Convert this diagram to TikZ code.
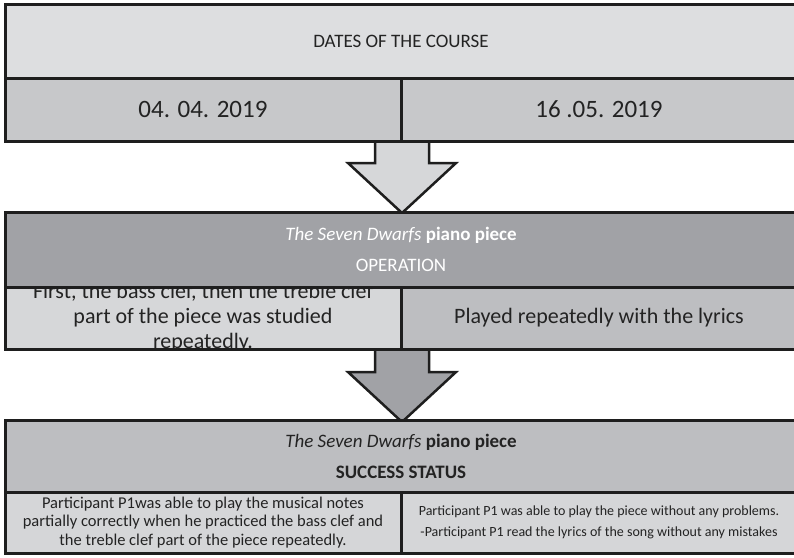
\documentclass[tikz,border=0pt]{standalone}
\usepackage{fontspec}
\setmainfont{Carlito}
\usetikzlibrary{calc}
\pgfdeclarelayer{back}
\pgfsetlayers{back,main}
\definecolor{edge}{RGB}{30,30,30}
\definecolor{ink}{RGB}{35,35,35}
\definecolor{paleA}{RGB}{221,222,224}
\definecolor{midA}{RGB}{199,200,202}
\definecolor{darkB}{RGB}{161,162,166}
\definecolor{paleB}{RGB}{214,215,217}
\definecolor{midB}{RGB}{189,190,193}
\definecolor{paleC}{RGB}{213,214,216}
\newcommand{\fsz}[2]{\fontsize{#1}{#2}\selectfont}

\begin{document}
\begin{tikzpicture}[x=1pt,y=-1pt,
  cell/.style={draw=edge, line width=3pt, anchor=north west, inner sep=0pt,
               outer sep=0pt, align=center, text=ink},
  halfcell/.style={cell, minimum width=396pt},
  fullcell/.style={cell, minimum width=792pt},
  blockarrow/.style={draw=edge, line width=2.5pt, line join=miter, miter limit=10},
]
\useasboundingbox (0,0) rectangle (794,557);
\clip (0,0) rectangle (794,557);

% dates of the course
\node[fullcell, fill=paleA, minimum height=74pt, font=\fsz{19}{23}] (datesH) at (5,4)
  {DATES OF THE COURSE};
\node[halfcell, fill=midA, minimum height=63pt, font=\fsz{25}{30}] (datesL) at (5,78)
  {04. 04. 2019};
\node[halfcell, fill=midA, minimum height=63pt, font=\fsz{25}{30}] (datesR) at (401,78)
  {16 .05. 2019};

% operation
\node[fullcell, fill=darkB, minimum height=75pt, text=white, font=\fsz{19}{31}] (opH) at (5,212)
  {\textit{The Seven Dwarfs} \textbf{piano piece}\\OPERATION};
\node[halfcell, fill=paleB, minimum height=62pt, draw=none] (opL) at (5,287) {};
\begin{scope}
  \clip ($(opL.north west)+(1.5,1.5)$) rectangle ($(opL.south east)+(-1.5,-1.5)$);
  \node[text=ink, align=center, inner sep=0pt, font=\fsz{22}{25}] (opLtext) at (opL.center)
    {First, the bass clef, then the treble clef\\part of the piece was studied\\repeatedly.};
\end{scope}
\draw[draw=edge, line width=3pt] (opL.north west) rectangle (opL.south east);
\node[halfcell, fill=midB, minimum height=62pt, font=\fsz{22}{25}] (opR) at (401,287)
  {Played repeatedly with the lyrics};

% success status
\node[fullcell, fill=midB, minimum height=72pt, font=\fsz{19}{31}] (ssH) at (5,420)
  {\textit{The Seven Dwarfs} \textbf{piano piece}\\\textbf{SUCCESS STATUS}};
\node[halfcell, fill=paleC, minimum height=61pt, font=\fsz{16.5}{18.5}] (ssL) at (5,492)
  {Participant P1was able to play the musical notes\\partially correctly when he practiced the bass clef and\\the treble clef part of the piece repeatedly.};
\node[halfcell, fill=paleC, minimum height=61pt, font=\fsz{14}{20.5}] (ssR) at (401,492)
  {Participant P1 was able to play the piece without any problems.\\-Participant P1 read the lyrics of the song without any mistakes};

% block arrows between the boxes
\begin{pgfonlayer}{back}
  \coordinate (a1) at ($(datesL.south east)+(1,0)$);
  \coordinate (t1) at ($(opH.north)+(1,1)$);
  \coordinate (a2) at ($(opL.south east)+(1,0)$);
  \coordinate (t2) at ($(ssH.north)+(1,2)$);
  \fill[paleB] ($(a1)+(-27,-2)$) -- ($(a1)+(-27,22)$) -- ($(a1)+(-54,22)$) -- (t1)
    -- ($(a1)+(54,22)$) -- ($(a1)+(27,22)$) -- ($(a1)+(27,-2)$) -- cycle;
  \draw[blockarrow] ($(a1)+(-27,-2)$) -- ($(a1)+(-27,22)$) -- ($(a1)+(-54,22)$) -- (t1)
    -- ($(a1)+(54,22)$) -- ($(a1)+(27,22)$) -- ($(a1)+(27,-2)$);
  \fill[darkB] ($(a2)+(-27,-2)$) -- ($(a2)+(-27,23)$) -- ($(a2)+(-54,23)$) -- (t2)
    -- ($(a2)+(54,23)$) -- ($(a2)+(27,23)$) -- ($(a2)+(27,-2)$) -- cycle;
  \draw[blockarrow] ($(a2)+(-27,-2)$) -- ($(a2)+(-27,23)$) -- ($(a2)+(-54,23)$) -- (t2)
    -- ($(a2)+(54,23)$) -- ($(a2)+(27,23)$) -- ($(a2)+(27,-2)$);
\end{pgfonlayer}
\end{tikzpicture}
\end{document}
